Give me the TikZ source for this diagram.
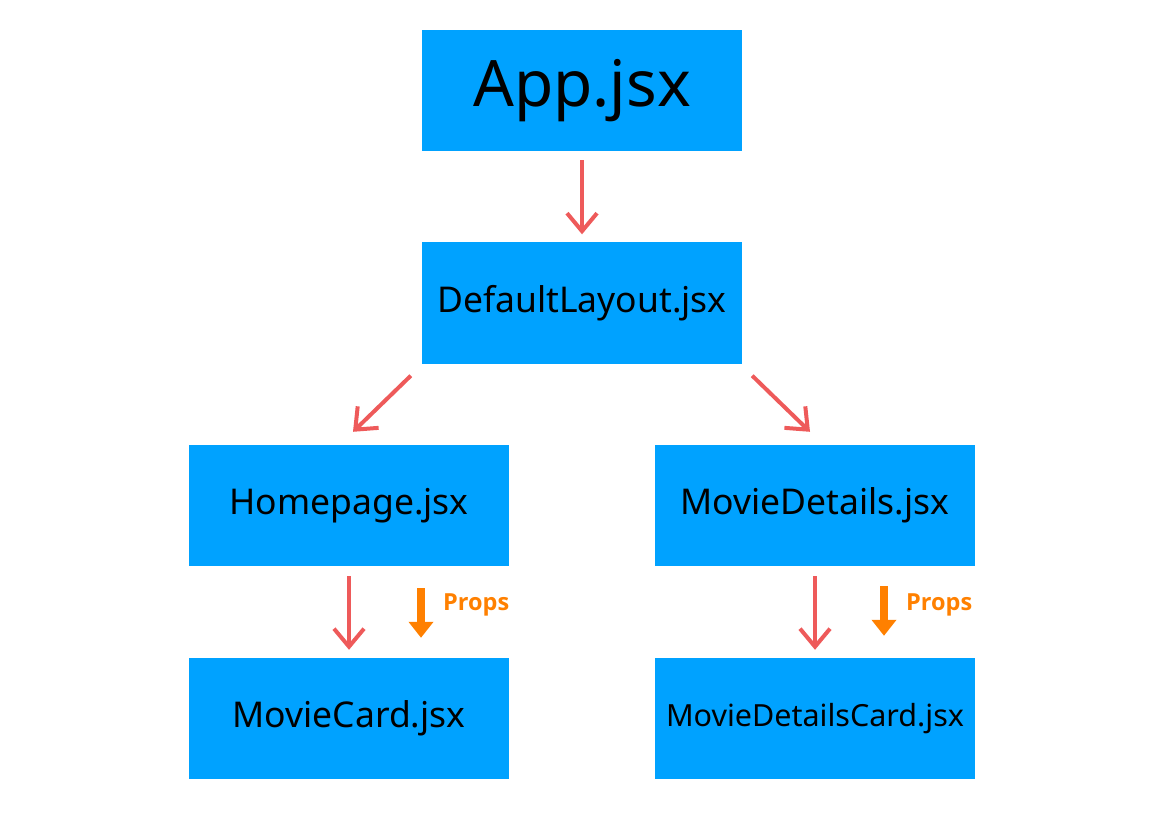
\documentclass[tikz,border=0pt]{standalone}
\usepackage{fontspec}
\setmainfont{Noto Sans}
\newfontfamily\propfont{Open Sans}
\usetikzlibrary{arrows.meta,calc}
\definecolor{boxblue}{HTML}{00A2FF}
\definecolor{arrred}{HTML}{EE5A5A}
\definecolor{proporange}{HTML}{FF8000}
\begin{document}
\begin{tikzpicture}[x=1pt,y=-1pt,
  comp/.style={fill=boxblue,draw=none,minimum width=320pt,minimum height=121pt,inner sep=0pt,text=black},
  flow/.style={draw=arrred,line width=4pt,-{Straight Barb[length=18pt,width=30pt,line width=4pt]}},
  propflow/.style={draw=proporange,line width=8pt,-{Triangle[length=16pt,width=24pt]}},
  proplabel/.style={text=proporange,font=\propfont\bfseries\fontsize{23.5}{28}\selectfont,anchor=west,inner sep=0pt}]
\useasboundingbox (0,0) rectangle (1165,837);
\node[comp,font=\fontsize{64}{70}\selectfont] (app) at (582,90.5) {App.jsx};
\node[comp,font=\fontsize{35.5}{40}\selectfont] (layout) at (582,303) {DefaultLayout.jsx};
\node[comp,font=\fontsize{35.5}{40}\selectfont] (home) at (349,505.5) {Homepage.jsx};
\node[comp,font=\fontsize{35.5}{40}\selectfont] (details) at (815,505.5) {MovieDetails.jsx};
\node[comp,font=\fontsize{35.5}{40}\selectfont] (card) at (349,718.5) {MovieCard.jsx};
\node[comp,font=\fontsize{30.5}{35}\selectfont] (dcard) at (815,718.5) {MovieDetailsCard.jsx};
\draw[flow] ($(app.south)+(0,9)$) -- ($(layout.north)+(0,-8)$);
\draw[flow] ($(layout.south west)+(-11,12)$) -- ($(home.north)+(4,-13)$);
\draw[flow] ($(layout.south east)+(10,12)$) -- ($(details.north)+(-5,-13)$);
\draw[flow] ($(home.south)+(0,10)$) -- ($(card.north)+(0,-8)$);
\draw[flow] ($(details.south)+(0,10)$) -- ($(dcard.north)+(0,-8)$);
\draw[propflow] ($(home.south)+(72,22)$) -- ($(card.north)+(72,-20)$);
\draw[propflow] ($(details.south)+(69,20)$) -- ($(dcard.north)+(69,-22)$);
\node[proplabel] (p1) at (443,605) {Props};
\node[proplabel] (p2) at (906,605) {Props};
\end{tikzpicture}
\end{document}
